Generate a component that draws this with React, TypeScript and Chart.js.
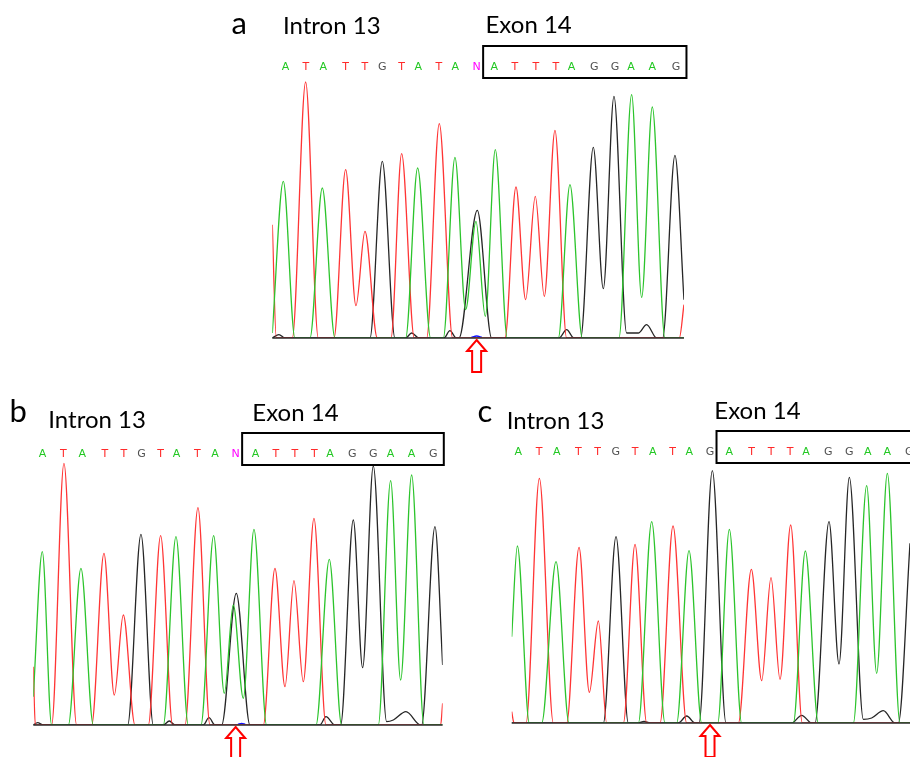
import { useEffect, useRef } from "react";
import { Chart, registerables } from "chart.js";
Chart.register(...registerables);

// ---------- base calls (letters) and their positions (scan units) ----------
const basesA = ["A","T","A","T","T","G","T","A","T","A","N","A","T","T","T","A","G","G","A","A","G"];
const basePosA = [40,101,153,220,278,330,388,438,500,549,613,666,728,791,851,898,966,1028,1076,1140,1211];
const basesB = ["A","T","A","T","T","G","T","A","T","A","N","A","T","T","T","A","G","G","A","A","G"];
const basePosB = [28,90,147,215,272,325,382,430,492,545,607,667,728,785,843,890,957,1020,1072,1135,1200];
const basesC = ["A","T","A","T","T","G","T","A","T","A","G","A","T","T","T","A","G","G","A","A","G"];
const basePosC = [20,82,135,200,258,312,370,423,483,533,595,653,720,778,835,883,950,1013,1068,1127,1193];

// ---------- trace vertices [scan, intensity] ----------
const redA = [[0,340],[12,0],[60,0],[100,768],[138,0],[185,0],[220,505],[251,97],[278,320],[315,0],[356,0],[388,553],[426,0],[463,0],[501,643],[541,0],[698,0],[731,453],[760,115],[789,425],[816,125],[848,623],[883,0],[1221,0],[1235,100]];
const greenA = [[0,15],[33,470],[68,0],[113,0],[150,450],[188,0],[400,0],[436,510],[475,0],[513,0],[548,542],[580,85],[611,350],[639,65],[669,565],[705,0],[858,0],[893,460],[930,0],[1040,0],[1078,730],[1108,122],[1140,693],[1178,0],[1235,0]];
const blackA = [[0,0],[20,10],[38,0],[293,0],[330,530],[368,0],[400,0],[418,15],[440,0],[515,0],[533,22],[552,0],[560,0],[615,383],[658,0],[860,0],[883,25],[905,0],[925,0],[963,572],[993,148],[1025,725],[1063,15],[1098,15],[1123,40],[1153,0],[1171,0],[1208,548],[1235,115]];
const blueA = [[597,2],[613,6],[629,2]];

const redB = [[0,175],[6,0],[55,0],[92,785],[130,0],[175,0],[212,515],[243,90],[270,330],[305,0],[345,0],[382,568],[418,0],[455,0],[494,652],[530,0],[690,0],[725,470],[755,115],[782,433],[810,130],[842,620],[878,0],[1222,0],[1228,65]];
const greenB = [[0,85],[27,520],[55,0],[105,0],[143,470],[180,0],[390,0],[428,565],[465,0],[503,0],[541,568],[573,95],[600,360],[630,80],[662,587],[700,0],[848,0],[888,497],[925,0],[1035,0],[1072,733],[1102,135],[1135,750],[1172,0],[1228,0]];
const blackB = [[0,0],[13,7],[30,0],[283,0],[323,572],[360,0],[390,0],[408,12],[425,0],[510,0],[527,22],[545,0],[565,0],[609,395],[650,0],[860,0],[878,25],[905,0],[922,0],[960,615],[988,172],[1020,777],[1060,10],[1080,15],[1118,40],[1162,0],[1165,0],[1205,595],[1228,180]];
const blueB = [[614,2],[625,5],[636,2]];

const redC = [[0,34],[7,0],[43,0],[83,734],[125,0],[165,0],[202,527],[233,92],[260,306],[285,0],[335,0],[370,536],[405,0],[445,0],[484,591],[525,0],[680,0],[719,461],[750,127],[778,436],[805,131],[837,594],[872,0],[1195,0]];
const greenC = [[0,259],[17,531],[53,0],[90,0],[133,484],[172,0],[380,0],[420,604],[460,0],[495,0],[532,517],[570,0],[618,0],[653,581],[690,0],[845,0],[881,516],[920,0],[1025,0],[1065,712],[1095,149],[1127,749],[1165,0],[1195,0]];
const blackC = [[0,0],[275,0],[313,559],[350,0],[380,0],[397,5],[415,0],[500,0],[525,21],[550,0],[562,0],[602,757],[643,0],[840,0],[870,23],[900,0],[910,0],[952,604],[982,177],[1013,737],[1055,11],[1080,15],[1115,37],[1150,0],[1160,0],[1195,539]];

const intronLabel = "Intron 13";
const exonLabel = "Exon 14";
const Y_MAX = 800;

const baseColors: Record<string, string> = { A: "#22c822", T: "#ff2a2a", G: "#505050", C: "#2020ff", N: "#ff00ff" };
const traceColors = { red: "#ff3535", green: "#2cc42c", black: "#262626", blue: "#1010ff" };

type Panel = {
  id: string;
  canvas: { left: number; top: number; width: number; height: number };
  area: { left: number; bottom: number };
  xMax: number;
  bases: string[];
  pos: number[];
  traces: { color: string; data: number[][] }[];
  letter: { x: number; y: number };
  intron: { x: number; y: number };
  exon: { x: number; y: number };
};

const panels: Panel[] = [
  {
    id: "a",
    canvas: { left: 220, top: 0, width: 480, height: 380 },
    area: { left: 272.3, bottom: 338 },
    xMax: 1235,
    bases: basesA,
    pos: basePosA,
    traces: [
      { color: traceColors.green, data: greenA },
      { color: traceColors.red, data: redA },
      { color: traceColors.black, data: blackA },
    ],
    letter: { x: 231.5, y: 34 },
    intron: { x: 283, y: 34 },
    exon: { x: 485.5, y: 33 },
  },
  {
    id: "b",
    canvas: { left: 0, top: 390, width: 460, height: 367 },
    area: { left: 33.3, bottom: 725 },
    xMax: 1228,
    bases: basesB,
    pos: basePosB,
    traces: [
      { color: traceColors.green, data: greenB },
      { color: traceColors.red, data: redB },
      { color: traceColors.black, data: blackB },
    ],
    letter: { x: 9.5, y: 422.3 },
    intron: { x: 48.3, y: 427.7 },
    exon: { x: 252.3, y: 420.7 },
  },
  {
    id: "c",
    canvas: { left: 470, top: 390, width: 440, height: 367 },
    area: { left: 511.7, bottom: 723 },
    xMax: 1195,
    bases: basesC,
    pos: basePosC,
    traces: [
      { color: traceColors.green, data: greenC },
      { color: traceColors.red, data: redC },
      { color: traceColors.black, data: blackC },
    ],
    letter: { x: 477.5, y: 421.5 },
    intron: { x: 506.7, y: 429 },
    exon: { x: 714.3, y: 419.3 },
  },
];

const blueTraces: Record<string, number[][]> = { a: blueA, b: blueB };

const overlayPlugin = {
  id: "overlay",
  afterDraw(chart: any, _args: any, opts: any) {
    const p: Panel = opts.panel;
    if (!p) return;
    const { ctx, chartArea, scales } = chart;
    const ox = p.canvas.left;
    const oy = p.canvas.top;
    const b = chartArea.bottom;
    const xs = scales.x;
    ctx.save();
    // baseline
    ctx.strokeStyle = "#2a2a2a";
    ctx.lineWidth = 1.6;
    ctx.beginPath();
    ctx.moveTo(chartArea.left, b);
    ctx.lineTo(chartArea.right, b);
    ctx.stroke();
    // base letters
    ctx.font = '11px "DejaVu Sans"';
    ctx.textAlign = "center";
    ctx.textBaseline = "alphabetic";
    p.bases.forEach((c, i) => {
      ctx.fillStyle = baseColors[c] || "#000";
      ctx.fillText(c, xs.getPixelForValue(p.pos[i]), b - 268.5);
    });
    // exon box
    const x0 = xs.getPixelForValue(p.pos[10]) + 6.5;
    const x1 = xs.getPixelForValue(p.pos[p.pos.length - 1]) + 10.5;
    ctx.strokeStyle = "#000";
    ctx.lineWidth = 2;
    ctx.strokeRect(x0, b - 292, x1 - x0, 32);
    // labels
    ctx.fillStyle = "#000";
    ctx.textAlign = "left";
    ctx.font = "31px Lato";
    ctx.fillText(p.id, p.letter.x - ox, p.letter.y - oy);
    ctx.font = "24px Lato";
    ctx.fillText(intronLabel, p.intron.x - ox, p.intron.y - oy);
    ctx.fillText(exonLabel, p.exon.x - ox, p.exon.y - oy);
    // arrow
    const ax = xs.getPixelForValue(p.pos[10]);
    const tip = b + 2;
    const hb = b + 13;
    const hw = 9.5;
    const sw = 4.5;
    const bot = b + 34;
    ctx.beginPath();
    ctx.moveTo(ax, tip);
    ctx.lineTo(ax + hw, hb);
    ctx.lineTo(ax + sw, hb);
    ctx.lineTo(ax + sw, bot);
    ctx.lineTo(ax - sw, bot);
    ctx.lineTo(ax - sw, hb);
    ctx.lineTo(ax - hw, hb);
    ctx.closePath();
    ctx.fillStyle = "#fff";
    ctx.fill();
    ctx.strokeStyle = "#ff0000";
    ctx.lineWidth = 2;
    ctx.stroke();
    ctx.restore();
  },
};

function PanelChart({ p }: { p: Panel }) {
  const ref = useRef<HTMLCanvasElement | null>(null);
  useEffect(() => {
    if (!ref.current) return;
    const areaTop = p.area.bottom - Y_MAX / 3;
    const areaRight = p.area.left + p.xMax / 3;
    const padding = {
      left: p.area.left - p.canvas.left,
      right: p.canvas.left + p.canvas.width - areaRight,
      top: areaTop - p.canvas.top,
      bottom: p.canvas.top + p.canvas.height - p.area.bottom,
    };
    const traces = [...p.traces];
    if (blueTraces[p.id]) traces.push({ color: traceColors.blue, data: blueTraces[p.id] });
    const chart = new Chart(ref.current, {
      type: "line",
      data: {
        datasets: traces.map((t) => ({
          data: t.data.map(([x, y]) => ({ x, y })),
          borderColor: t.color,
          borderWidth: 1.3,
          pointRadius: 0,
          fill: false,
          cubicInterpolationMode: "monotone" as const,
        })),
      },
      options: {
        animation: false,
        responsive: false,
        events: [],
        layout: { padding },
        scales: {
          x: { type: "linear", min: 0, max: p.xMax, display: false },
          y: { type: "linear", min: 0, max: Y_MAX, display: false },
        },
        plugins: {
          legend: { display: false },
          tooltip: { enabled: false },
          overlay: { panel: p },
        } as any,
      },
      plugins: [overlayPlugin],
    });
    return () => chart.destroy();
  }, [p]);
  return (
    <canvas
      ref={ref}
      width={p.canvas.width}
      height={p.canvas.height}
      style={{
        position: "absolute",
        left: p.canvas.left,
        top: p.canvas.top,
        width: p.canvas.width,
        height: p.canvas.height,
        display: "block",
      }}
    />
  );
}

export default function App() {
  return (
    <div style={{ position: "absolute", left: 0, top: 0, width: 910, height: 757, background: "#fff", overflow: "hidden" }}>
      {panels.map((p) => (
        <PanelChart key={p.id} p={p} />
      ))}
    </div>
  );
}
